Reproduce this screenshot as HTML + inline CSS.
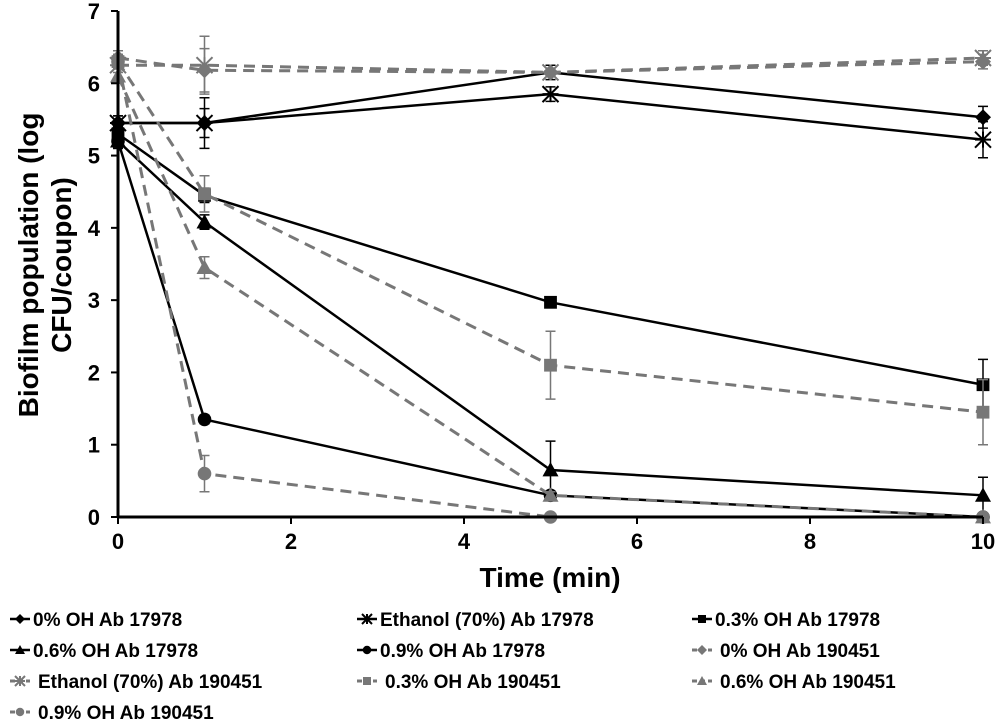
<!DOCTYPE html>
<html><head><meta charset="utf-8"><style>
body{margin:0;background:#fff;}
svg text{font-family:"Liberation Sans",Arial,sans-serif;font-weight:bold;}
</style></head><body>
<svg id="chart" width="1000" height="722" viewBox="0 0 1000 722" xmlns="http://www.w3.org/2000/svg">
<g id="plot"></g>
<g id="axes"></g>
<g id="legend"></g>
</svg>
<script>
const times = [0, 1, 5, 10];
const xTicks = [0, 2, 4, 6, 8, 10];
const yTicks = [0, 1, 2, 3, 4, 5, 6, 7];
const seriesNames = ["0% OH Ab 17978","Ethanol (70%) Ab 17978","0.3% OH Ab 17978","0.6% OH Ab 17978","0.9% OH Ab 17978","0% OH Ab 190451","Ethanol (70%) Ab 190451","0.3% OH Ab 190451","0.6% OH Ab 190451","0.9% OH Ab 190451"];
const v0 = [5.45, 5.45, 6.15, 5.53];
const v1 = [5.45, 5.45, 5.85, 5.22];
const v2 = [5.3, 4.45, 2.97, 1.83];
const v3 = [5.2, 4.08, 0.65, 0.3];
const v4 = [5.2, 1.35, 0.3, 0.0];
const v5 = [6.35, 6.18, 6.15, 6.3];
const v6 = [6.25, 6.25, 6.15, 6.35];
const v7 = [6.3, 4.47, 2.1, 1.45];
const v8 = [6.1, 3.45, 0.3, 0.0];
const v9 = [6.3, 0.6, 0.0, 0.0];
const e0 = [0.1, 0.2, 0.1, 0.15];
const e1 = [0.1, 0.35, 0.1, 0.25];
const e2 = [0.1, 0.1, 0.06, 0.35];
const e3 = [0.1, 0.1, 0.4, 0.25];
const e4 = [0.1, 0.06, 0.06, 0.05];
const e5 = [0.1, 0.3, 0.05, 0.1];
const e6 = [0.1, 0.4, 0.05, 0.1];
const e7 = [0.1, 0.25, 0.47, 0.45];
const e8 = [0.1, 0.15, 0.05, 0.05];
const e9 = [0.1, 0.25, 0.03, 0.03];
const values = [v0,v1,v2,v3,v4,v5,v6,v7,v8,v9];
const errs = [e0,e1,e2,e3,e4,e5,e6,e7,e8,e9];
const markers = ["diamond","star","square","triangle","circle","diamond","star","square","triangle","circle"];
const NS = "http://www.w3.org/2000/svg";
const X0=118, X1=983, Y0=517, Y1=11;
const xs = v => X0 + (v-0)/(10-0)*(X1-X0);
const ys = v => Y0 - (v-0)/(7-0)*(Y0-Y1);
function mk(tag, attrs, parent){const e=document.createElementNS(NS,tag);for(const k in attrs)e.setAttribute(k,attrs[k]);parent.appendChild(e);return e;}
function marker(type,x,y,col,g,s){
  let el;
  if(type==="diamond") el=mk("polygon",{points:`${x},${y-s} ${x+s},${y} ${x},${y+s} ${x-s},${y}`,fill:col},g);
  else if(type==="square") el=mk("rect",{x:x-s*0.8,y:y-s*0.8,width:s*1.6,height:s*1.6,fill:col},g);
  else if(type==="triangle") el=mk("polygon",{points:`${x},${y-s} ${x+s},${y+s*0.8} ${x-s},${y+s*0.8}`,fill:col},g);
  else if(type==="circle") el=mk("circle",{cx:x,cy:y,r:s*0.85,fill:col},g);
  else { el=mk("path",{d:`M${x-s},${y-s}L${x+s},${y+s}M${x-s},${y+s}L${x+s},${y-s}M${x},${y-s}L${x},${y+s}M${x-s},${y}L${x+s},${y}`,stroke:col,"stroke-width":2,fill:"none"},g); }
  return el;
}
const plot=document.getElementById("plot");
values.forEach((vals,i)=>{
  const grey=i>=5, col=grey?"#777":"#000";
  const g=mk("g",{},plot);
  
  
  const line=mk("polyline",{points:vals.map((v,j)=>xs(times[j])+","+ys(v)).join(" "),fill:"none",stroke:col,"stroke-width":grey?3:2.5,"stroke-dasharray":grey?"11,7":"none"},g);
  
  
  vals.forEach((v,j)=>{
    const x=xs(times[j]), e=errs[i][j];
    const eb=mk("path",{d:`M${x},${ys(v+e)}L${x},${ys(v-e)}M${x-5},${ys(v+e)}L${x+5},${ys(v+e)}M${x-5},${ys(v-e)}L${x+5},${ys(v-e)}`,stroke:col,"stroke-width":1.5,fill:"none"},g);
    
    
    const m=marker(markers[i],x,ys(v),col,g,8);
    
    
  });
});
const axes=document.getElementById("axes");
mk("line",{x1:X0,y1:Y0,x2:X1,y2:Y0,stroke:"#000","stroke-width":3},axes);
mk("line",{x1:X0,y1:Y0,x2:X0,y2:Y1,stroke:"#000","stroke-width":3},axes);
xTicks.forEach(t=>{
  mk("line",{x1:xs(t),y1:Y0,x2:xs(t),y2:Y0+7,stroke:"#000","stroke-width":2},axes);
  const tx=mk("text",{x:xs(t),y:Y0+32,"text-anchor":"middle","font-size":22},axes);
  tx.textContent=t;
  
  
});
yTicks.forEach(t=>{
  mk("line",{x1:X0-7,y1:ys(t),x2:X0,y2:ys(t),stroke:"#000","stroke-width":2},axes);
  const tx=mk("text",{x:X0-18,y:ys(t)+8,"text-anchor":"end","font-size":22},axes);
  tx.textContent=t;
  
  
});
const xt=mk("text",{x:550,y:587,"text-anchor":"middle","font-size":28},axes);
xt.textContent="Time (min)";


const yt=mk("text",{transform:"translate(38,265) rotate(-90)","text-anchor":"middle","font-size":28},axes);


const t1=mk("tspan",{x:0,dy:0},yt); t1.textContent="Biofilm population (log";
const t2=mk("tspan",{x:0,dy:33},yt); t2.textContent="CFU/coupon)";
const lg=document.getElementById("legend");
const colX=[10,357,692], rowY=[619,650,681,712];
seriesNames.forEach((n,i)=>{
  const grey=i>=5,col=grey?"#777":"#000";
  const x=colX[i%3], y=rowY[Math.floor(i/3)];
  const g=mk("g",{},lg);
  
  
  mk("line",{x1:x,y1:y,x2:x+20,y2:y,stroke:col,"stroke-width":grey?3:2.5,"stroke-dasharray":grey?"5,3":"none"},g);
  marker(markers[i],x+10,y,col,g,5);
  const tx=mk("text",{x:x+(grey?28:23),y:y+7,"font-size":19,fill:"#000"},g);
  tx.textContent=n;
});
</script>
</body></html>
